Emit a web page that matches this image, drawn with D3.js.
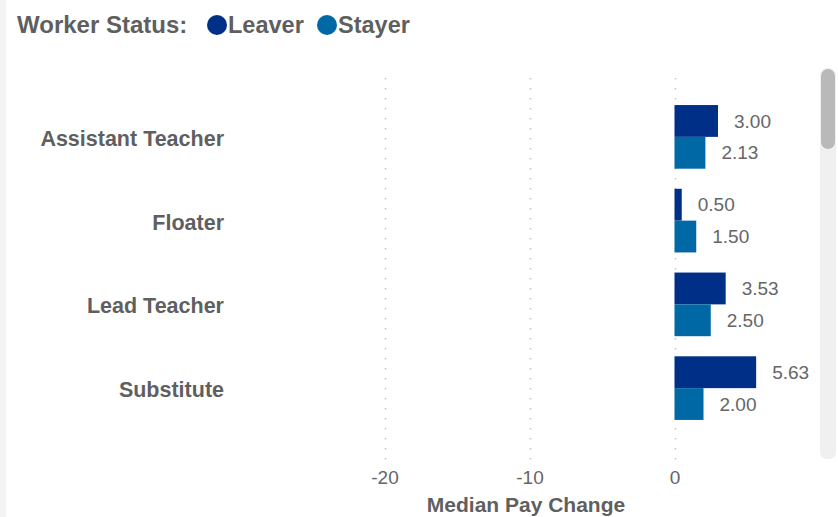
<!DOCTYPE html>
<html>
<head>
<meta charset="utf-8">
<script src="https://cdn.jsdelivr.net/npm/d3@7"></script>
<style>
  body { margin: 0; background: #fff; }
  svg { display: block; font-family: "Liberation Sans", Arial, sans-serif; }
</style>
</head>
<body>
<div id="chart"></div>
<script>
var roles = ["Assistant Teacher", "Floater", "Lead Teacher", "Substitute"];
var statuses = ["Leaver", "Stayer"];
var leaverPay = [3.00, 0.50, 3.53, 5.63];
var stayerPay = [2.13, 1.50, 2.50, 2.00];
var xTicks = [-20, -10, 0];

var colors = { Leaver: "#002f87", Stayer: "#0068a5" };
var width = 838,
    height = 517;

var rows = [];
roles.forEach(function(role, i) {
  rows.push({ role: role, status: "Leaver", value: leaverPay[i] });
  rows.push({ role: role, status: "Stayer", value: stayerPay[i] });
});

var svg = d3.select("#chart")
  .append("svg")
    .attr("width", width)
    .attr("height", height);

// left panel edge
svg.append("rect")
  .attr("x", 0).attr("y", 0)
  .attr("width", 6).attr("height", height)
  .attr("fill", "#f3f3f3");

var x = d3.scaleLinear()
  .domain([-30, 10])
  .range([239.5, 819.5]);

var y = d3.scaleBand()
  .domain(roles)
  .range([95, 430])
  .paddingInner(0.24)
  .paddingOuter(0.12);

var ySub = d3.scaleBand()
  .domain(statuses)
  .range([0, y.bandwidth()]);

// dotted gridlines
svg.append("g")
  .selectAll("line")
  .data(xTicks)
  .enter()
    .append("line")
    .attr("x1", function(d) { return Math.round(x(d)) + 0.5; })
    .attr("x2", function(d) { return Math.round(x(d)) + 0.5; })
    .attr("y1", 78)
    .attr("y2", 462)
    .attr("stroke", "#c4c4c4")
    .attr("stroke-width", 1.5)
    .attr("stroke-dasharray", "1.5,8.5");

// bars
svg.append("g")
  .selectAll("rect")
  .data(rows)
  .enter()
    .append("rect")
    .attr("x", function(d) { return x(Math.min(0, d.value)); })
    .attr("y", function(d) { return y(d.role) + ySub(d.status); })
    .attr("width", function(d) { return Math.abs(x(d.value) - x(0)); })
    .attr("height", ySub.bandwidth())
    .attr("fill", function(d) { return colors[d.status]; });

// value labels
svg.append("g")
  .selectAll("text")
  .data(rows)
  .enter()
    .append("text")
    .attr("x", function(d) { return x(d.value) + 16; })
    .attr("y", function(d) { return y(d.role) + ySub(d.status) + ySub.bandwidth() / 2; })
    .attr("dy", "0.35em")
    .attr("font-size", "19px")
    .attr("fill", "#666")
    .text(function(d) { return d3.format(".2f")(d.value); });

// category labels
var yAxis = d3.axisLeft(y).tickSize(0).tickPadding(0);
svg.append("g")
  .attr("transform", "translate(224,0)")
  .call(yAxis)
  .call(function(g) { g.select(".domain").remove(); })
  .selectAll(".tick text")
    .attr("dy", "0.42em")
    .attr("font-size", "21.5px")
    .attr("font-weight", "bold")
    .attr("font-family", "Liberation Sans, Arial, sans-serif")
    .attr("fill", "#5f5f5f");

// x axis
var xAxis = d3.axisBottom(x)
  .tickValues(xTicks)
  .tickFormat(function(d) { return String(d); })
  .tickSize(0)
  .tickPadding(0);
svg.append("g")
  .attr("transform", "translate(0,470)")
  .call(xAxis)
  .call(function(g) { g.select(".domain").remove(); })
  .selectAll(".tick text")
    .attr("font-size", "19px")
    .attr("font-family", "Liberation Sans, Arial, sans-serif")
    .attr("fill", "#666");

svg.append("text")
  .attr("x", 526)
  .attr("y", 512)
  .attr("text-anchor", "middle")
  .attr("font-size", "21px")
  .attr("font-weight", "bold")
  .attr("fill", "#5f5f5f")
  .text("Median Pay Change");

// legend
var legend = svg.append("g");
legend.append("text")
  .attr("x", 17).attr("y", 33)
  .attr("font-size", "24px")
  .attr("font-weight", "bold")
  .attr("fill", "#5f5f5f")
  .text("Worker Status:");

var legendPos = [{ cx: 217, tx: 228 }, { cx: 327, tx: 338 }];
legend.selectAll(".item")
  .data(statuses)
  .enter()
    .append("g")
    .attr("class", "item")
    .each(function(d, i) {
      var g = d3.select(this);
      g.append("circle")
        .attr("cx", legendPos[i].cx).attr("cy", 25)
        .attr("r", 10)
        .attr("fill", colors[d]);
      g.append("text")
        .attr("x", legendPos[i].tx).attr("y", 33)
        .attr("font-size", "23.5px")
        .attr("font-weight", "bold")
        .attr("fill", "#5f5f5f")
        .text(d);
    });

// scrollbar
svg.append("rect")
  .attr("x", 820).attr("y", 68)
  .attr("width", 16).attr("height", 391)
  .attr("rx", 7)
  .attr("fill", "#f0f0f0");
svg.append("rect")
  .attr("x", 821).attr("y", 69)
  .attr("width", 14).attr("height", 80)
  .attr("rx", 7)
  .attr("fill", "#b9b9b9");
</script>
</body>
</html>
